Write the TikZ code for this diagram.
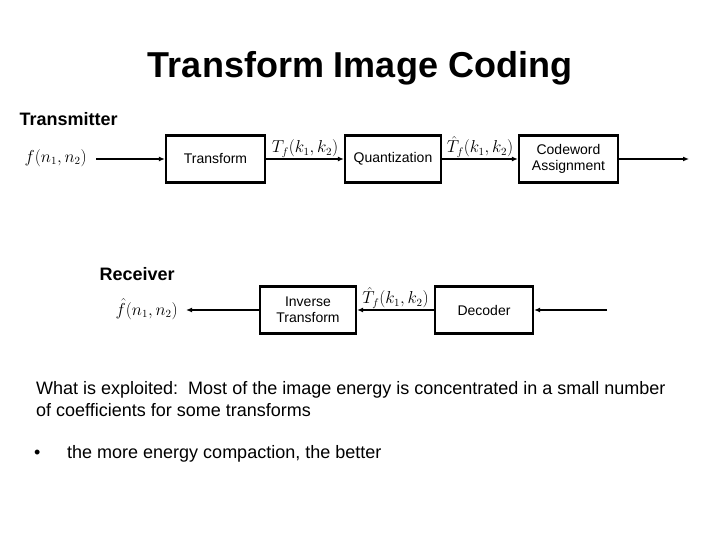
\documentclass[tikz,border=0pt]{standalone}
\usepackage{fontspec}
\setmainfont{Liberation Sans}
\usetikzlibrary{arrows.meta}
\begin{document}
\begin{tikzpicture}[x=1pt,y=-1pt,
  blk/.style={draw,line width=2.2pt,minimum height=47pt,inner sep=0pt,align=center,font=\fontsize{14}{16}\selectfont},
  arr/.style={-{Latex[length=6pt,width=5pt]},line width=1.6pt},
  lab/.style={font=\fontsize{16}{18}\selectfont,inner sep=1pt}]
\useasboundingbox (0,0) rectangle (720,540);
\node[font=\bfseries\fontsize{36}{40}\selectfont] (title) at (360,68) {Transform Image Coding};
\node[anchor=west,font=\bfseries\fontsize{18}{20}\selectfont] (tx) at (16,119) {Transmitter};
\node[blk,minimum width=99pt] (tr) at (215.5,159) {Transform};
\node[blk,minimum width=96pt] (qu) at (393,159) {Quantization};
\node[blk,minimum width=99pt] (cw) at (568.5,159) {Codeword\\Assignment};
\coordinate (in) at (96,159);
\coordinate (out) at (689,159);
\node[lab,anchor=east] (f) at (88,158) {$f(n_1,n_2)$};
\draw[arr] (in) -- (tr);
\draw[arr] (tr) -- node[lab,above=0pt] (t1) {$T_f(k_1,k_2)$} (qu);
\draw[arr] (qu) -- node[lab,above=0pt] (t2) {$\hat T_f(k_1,k_2)$} (cw);
\draw[arr] (cw) -- (out);
\node[anchor=west,font=\bfseries\fontsize{18}{20}\selectfont] (rx) at (96,274) {Receiver};
\node[blk,minimum width=96pt] (it) at (308,310) {Inverse\\Transform};
\node[blk,minimum width=98pt] (de) at (484,310) {Decoder};
\coordinate (rin) at (607,310);
\coordinate (rout) at (186,310);
\node[lab,anchor=east] (fh) at (179,309) {$\hat f(n_1,n_2)$};
\draw[arr] (rin) -- (de);
\draw[arr] (de) -- node[lab,above=0pt] (t3) {$\hat T_f(k_1,k_2)$} (it);
\draw[arr] (it) -- (rout);
\node[anchor=west,align=left,inner sep=0pt,font=\fontsize{18}{22}\selectfont] (txt) at (36,399) {What is exploited:\ \ Most of the image energy is concentrated in a small number\\of coefficients for some transforms};
\node[anchor=west,inner sep=0pt,font=\fontsize{18}{20}\selectfont] (bul) at (34,454) {•};
\node[anchor=west,inner sep=0pt,font=\fontsize{18}{20}\selectfont] (b1) at (67,454) {the more energy compaction, the better};
\end{tikzpicture}
\end{document}
